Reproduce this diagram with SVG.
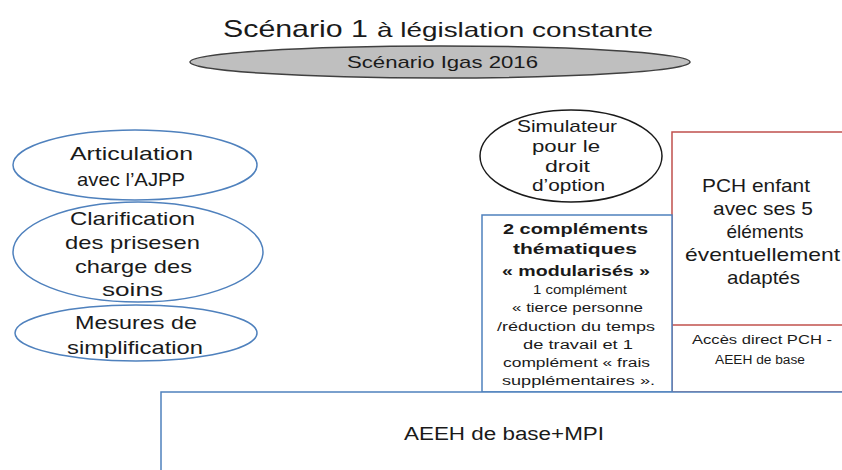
<svg xmlns="http://www.w3.org/2000/svg" width="842" height="470" viewBox="0 0 842 470">
<style>
text{font-family:"Liberation Sans",Arial,sans-serif;fill:#1a1a1a;text-anchor:middle}
.m{font-size:19px}
.s{font-size:12.5px}
.b{font-size:15.5px;font-weight:bold}
.blue{fill:#fff;stroke:#4f81bd;stroke-width:1.5}
.red{fill:#fff;stroke:#c0504d;stroke-width:1.5}
</style>
<rect width="842" height="470" fill="#fff"/>
<g id="title">
<text x="295.5" y="37" style="font-size:24px" textLength="145" lengthAdjust="spacingAndGlyphs">Scénario 1</text>
<text x="515" y="37" style="font-size:21px" textLength="276" lengthAdjust="spacingAndGlyphs">à législation constante</text>
</g>
<g id="igas">
<ellipse cx="440" cy="62" rx="250" ry="16" fill="#bfbfbf" stroke="#404040" stroke-width="1.5"/>
<text x="442.5" y="68" style="font-size:17px" textLength="191" lengthAdjust="spacingAndGlyphs">Scénario Igas 2016</text>
</g>
<g id="articulation">
<ellipse class="blue" cx="135" cy="165" rx="122" ry="35"/>
<text class="m" x="131.5" y="160" textLength="123" lengthAdjust="spacingAndGlyphs">Articulation</text>
<text class="m" x="131" y="186" textLength="108" lengthAdjust="spacingAndGlyphs">avec l’AJPP</text>
</g>
<g id="clarification">
<ellipse class="blue" cx="138" cy="252" rx="125" ry="50"/>
<text class="m" x="132.5" y="225" textLength="125" lengthAdjust="spacingAndGlyphs">Clarification</text>
<text class="m" x="132.5" y="249" textLength="135" lengthAdjust="spacingAndGlyphs">des prisesen</text>
<text class="m" x="133.5" y="273" textLength="117" lengthAdjust="spacingAndGlyphs">charge des</text>
<text class="m" x="132.5" y="296" textLength="61" lengthAdjust="spacingAndGlyphs">soins</text>
</g>
<g id="mesures">
<ellipse class="blue" cx="136" cy="333" rx="121" ry="28"/>
<text class="m" x="136" y="329" textLength="122" lengthAdjust="spacingAndGlyphs">Mesures de</text>
<text class="m" x="135" y="354" textLength="136" lengthAdjust="spacingAndGlyphs">simplification</text>
</g>
<g id="simulateur">
<ellipse cx="571" cy="156" rx="91" ry="46" fill="#fff" stroke="#1a1a1a" stroke-width="1.5"/>
<text x="567" y="132" style="font-size:17px" textLength="100" lengthAdjust="spacingAndGlyphs">Simulateur</text>
<text x="566" y="152" style="font-size:17px" textLength="68" lengthAdjust="spacingAndGlyphs">pour le</text>
<text x="567.5" y="172" style="font-size:17px" textLength="45" lengthAdjust="spacingAndGlyphs">droit</text>
<text x="568.5" y="191" style="font-size:17px" textLength="73" lengthAdjust="spacingAndGlyphs">d’option</text>
</g>
<g id="pch">
<rect class="red" x="672" y="132" width="180" height="260"/>
<line x1="672" y1="325" x2="842" y2="325" stroke="#c0504d" stroke-width="1.5"/>
<text class="m" x="756" y="192" textLength="108" lengthAdjust="spacingAndGlyphs">PCH enfant</text>
<text class="m" x="763" y="215" textLength="100" lengthAdjust="spacingAndGlyphs">avec ses 5</text>
<text class="m" x="765" y="238" textLength="77" lengthAdjust="spacingAndGlyphs">éléments</text>
<text class="m" x="762.5" y="261" textLength="155" lengthAdjust="spacingAndGlyphs">éventuellement</text>
<text class="m" x="763.5" y="284" textLength="73" lengthAdjust="spacingAndGlyphs">adaptés</text>
<text class="s" x="762" y="344" textLength="140" lengthAdjust="spacingAndGlyphs">Accès direct PCH -</text>
<text class="s" x="760" y="364" textLength="90" lengthAdjust="spacingAndGlyphs">AEEH  de base</text>
</g>
<g id="complements">
<rect class="blue" x="482" y="215" width="190" height="177"/>
<text class="b" x="575.5" y="234" textLength="145" lengthAdjust="spacingAndGlyphs">2 compléments</text>
<text class="b" x="575" y="254" textLength="124" lengthAdjust="spacingAndGlyphs">thématiques</text>
<text class="b" x="576" y="276" textLength="148" lengthAdjust="spacingAndGlyphs">« modularisés »</text>
<text class="s" x="580" y="294" textLength="94" lengthAdjust="spacingAndGlyphs">1 complément</text>
<text class="s" x="577.5" y="312" textLength="131" lengthAdjust="spacingAndGlyphs">« tierce personne</text>
<text class="s" x="576" y="331" textLength="158" lengthAdjust="spacingAndGlyphs">/réduction du temps</text>
<text class="s" x="578" y="349" textLength="110" lengthAdjust="spacingAndGlyphs">de travail  et 1</text>
<text class="s" x="576.5" y="367" textLength="147" lengthAdjust="spacingAndGlyphs">complément « frais</text>
<text class="s" x="578.5" y="385" textLength="153" lengthAdjust="spacingAndGlyphs">supplémentaires ».</text>
</g>
<g id="aeeh">
<rect class="blue" x="161" y="392" width="700" height="100"/>
<text x="504" y="440" style="font-size:18px" textLength="200" lengthAdjust="spacingAndGlyphs">AEEH de base+MPI</text>
</g>
<g id="connectors"></g>
</svg>
